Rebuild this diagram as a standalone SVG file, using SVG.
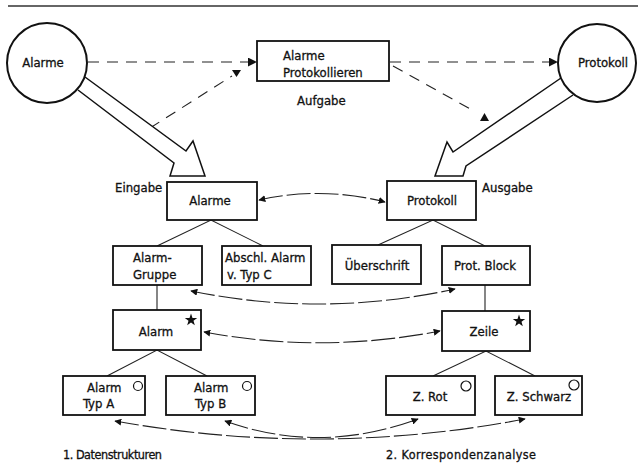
<svg xmlns="http://www.w3.org/2000/svg" width="638" height="468" viewBox="0 0 638 468">
  <defs>
    <style>
      .box { fill: #fff; stroke: #111; stroke-width: 1.8; }
      .ring { fill: #fff; stroke: #111; stroke-width: 2; }
      .mark { fill: #fff; stroke: #111; stroke-width: 1.2; }
      .star { fill: #111; stroke: none; }
      .tree { fill: none; stroke: #222; stroke-width: 1.1; }
      .flow { fill: none; stroke: #222; stroke-width: 1.1; stroke-dasharray: 11 8; }
      .corr { fill: none; stroke: #222; stroke-width: 1.1; stroke-dasharray: 24 4; }
      .big { fill: #fff; stroke: #111; stroke-width: 1.5; stroke-linejoin: miter; }
      text { font-family: "DejaVu Sans Condensed", "Liberation Sans", sans-serif; font-size: 13px; fill: #111; stroke: #111; stroke-width: 0.3; }
      .c { text-anchor: middle; }
      .cap { font-size: 12.5px; }
    </style>
    <marker id="tip" viewBox="0 0 10 10" refX="9" refY="5" markerWidth="7" markerHeight="7" markerUnits="userSpaceOnUse" orient="auto-start-reverse">
      <path d="M0,0 L10,5 L0,10 Z" fill="#111"/>
    </marker>
    <marker id="tipBig" viewBox="0 0 10 10" refX="9" refY="5" markerWidth="9" markerHeight="9" markerUnits="userSpaceOnUse" orient="auto">
      <path d="M0,0 L10,5 L0,10 Z" fill="#111"/>
    </marker>
    <polygon id="starShape" points="0,-6.5 1.5,-2.1 6.2,-2 2.5,0.8 3.8,5.3 0,2.6 -3.8,5.3 -2.5,0.8 -6.2,-2 -1.5,-2.1"/>
  </defs>

  <rect width="638" height="468" fill="#fff"/>
  <!-- page rule -->
  <line x1="8" y1="6" x2="638" y2="6" stroke="#333" stroke-width="1.4"/>

  <!-- connectors -->
  <g id="connectors">
    <!-- task flow (dashed) -->
    <line class="flow" x1="88" y1="62" x2="256" y2="62" marker-end="url(#tipBig)"/>
    <line class="flow" x1="150" y1="128" x2="232" y2="76"/>
    <path d="M232,70 L241,70 L236.5,77 Z" fill="#111"/>
    <line class="flow" x1="390" y1="62" x2="557" y2="62" marker-end="url(#tipBig)"/>
    <line class="flow" x1="393" y1="66" x2="472" y2="110"/>
    <path d="M480,121 L489,121 L484.5,113 Z" fill="#111"/>

    <!-- input / output hollow arrows -->
    <path class="big" d="M78,90 L174,163 L170,176 L205,176 L193,141 L186,151 L85,77"/>
    <path class="big" d="M561,78 L453,152 L447,142 L435,176 L463,176 L466,166 L573,95"/>

    <!-- structure trees -->
    <polyline class="tree" points="157,246 211,220 263,246"/>
    <polyline class="tree" points="378,245 433,220 485,246"/>
    <line class="tree" x1="157" y1="285" x2="157" y2="310"/>
    <line class="tree" x1="485" y1="285" x2="485" y2="311"/>
    <polyline class="tree" points="107,376 157,350 207,376"/>
    <polyline class="tree" points="433,376 486,351 535,376"/>

    <!-- correspondences -->
    <path class="corr" d="M259,200 Q322,186 385,202" marker-start="url(#tip)" marker-end="url(#tip)"/>
    <path class="corr" d="M191,291 Q322,318 455,289" marker-start="url(#tip)" marker-end="url(#tip)"/>
    <path class="corr" d="M204,332 Q322,354 440,331" marker-start="url(#tip)" marker-end="url(#tip)"/>
    <path class="corr" d="M115,421 Q320,458 525,419" marker-start="url(#tip)" marker-end="url(#tip)"/>
    <path class="corr" d="M225,421 Q320,455 418,419" marker-start="url(#tip)" marker-end="url(#tip)"/>
  </g>

  <!-- external entities -->
  <g id="ext-alarme">
    <circle class="ring" cx="47" cy="63" r="40"/>
    <text class="c" x="43" y="67">Alarme</text>
  </g>
  <g id="ext-protokoll">
    <circle class="ring" cx="597" cy="63" r="39"/>
    <text class="c" x="603" y="67">Protokoll</text>
  </g>

  <!-- task -->
  <g id="task">
    <rect class="box" x="257" y="41" width="132" height="40"/>
    <text x="283" y="60">Alarme</text>
    <text x="283" y="77">Protokollieren</text>
    <text x="297" y="105">Aufgabe</text>
  </g>

  <text x="115" y="192">Eingabe</text>
  <text x="482" y="192">Ausgabe</text>

  <!-- input structure -->
  <g id="in-alarme">
    <rect class="box" x="167" y="182" width="90" height="38"/>
    <text class="c" x="210" y="205">Alarme</text>
  </g>
  <g id="in-gruppe">
    <rect class="box" x="113" y="246" width="89" height="39"/>
    <text x="133" y="262">Alarm-</text>
    <text x="133" y="279">Gruppe</text>
  </g>
  <g id="in-abschl">
    <rect class="box" x="222" y="246" width="89" height="39"/>
    <text x="225" y="262">Abschl. Alarm</text>
    <text x="227" y="279">v. Typ C</text>
  </g>
  <g id="in-alarm">
    <rect class="box" x="113" y="310" width="88" height="40"/>
    <text class="c" x="156" y="336">Alarm</text>
    <use href="#starShape" class="star" x="191" y="320"/>
  </g>
  <g id="in-typa">
    <rect class="box" x="63" y="376" width="82" height="39"/>
    <circle class="mark" cx="138" cy="386" r="4.5"/>
    <text x="87" y="392">Alarm</text>
    <text x="83" y="408">Typ A</text>
  </g>
  <g id="in-typb">
    <rect class="box" x="166" y="376" width="89" height="39"/>
    <circle class="mark" cx="247" cy="386" r="4.5"/>
    <text x="194" y="392">Alarm</text>
    <text x="195" y="408">Typ B</text>
  </g>

  <!-- output structure -->
  <g id="out-protokoll">
    <rect class="box" x="387" y="181" width="89" height="39"/>
    <text class="c" x="432" y="205">Protokoll</text>
  </g>
  <g id="out-ueberschrift">
    <rect class="box" x="332" y="245" width="89" height="39"/>
    <text class="c" x="377" y="270">Überschrift</text>
  </g>
  <g id="out-block">
    <rect class="box" x="442" y="246" width="88" height="39"/>
    <text class="c" x="485" y="270">Prot. Block</text>
  </g>
  <g id="out-zeile">
    <rect class="box" x="442" y="311" width="88" height="40"/>
    <text class="c" x="484" y="336">Zeile</text>
    <use href="#starShape" class="star" x="519" y="321"/>
  </g>
  <g id="out-rot">
    <rect class="box" x="386" y="376" width="89" height="39"/>
    <circle class="mark" cx="466" cy="386" r="5"/>
    <text class="c" x="430" y="401">Z. Rot</text>
  </g>
  <g id="out-schwarz">
    <rect class="box" x="495" y="376" width="87" height="39"/>
    <circle class="mark" cx="574" cy="385" r="5"/>
    <text class="c" x="539" y="401">Z. Schwarz</text>
  </g>

  <text class="cap" x="63" y="459" textLength="99">1. Datenstrukturen</text>
  <text class="cap" x="386" y="459" textLength="150">2. Korrespondenzanalyse</text>
</svg>
